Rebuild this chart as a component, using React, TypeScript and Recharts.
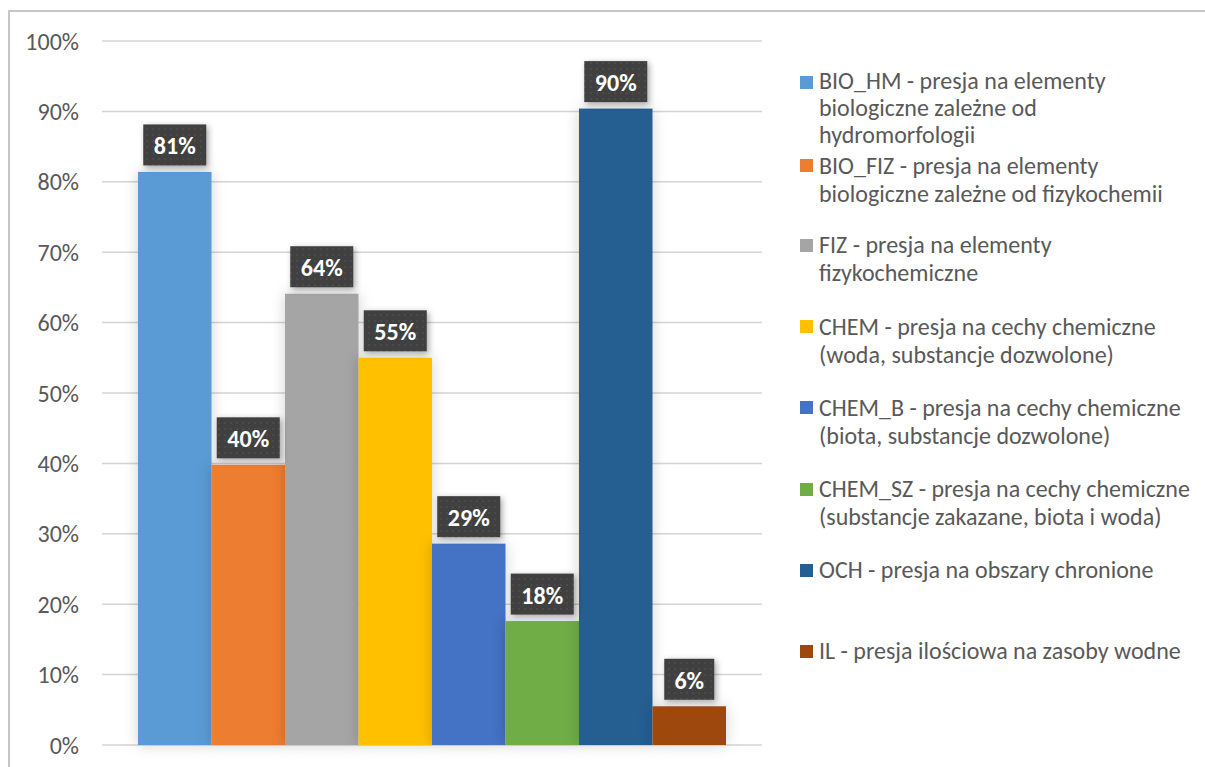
import React from 'react';
import { BarChart, Bar, XAxis, YAxis, CartesianGrid, LabelList } from 'recharts';

const seriesKeys = ['BIO_HM', 'BIO_FIZ', 'FIZ', 'CHEM', 'CHEM_B', 'CHEM_SZ', 'OCH', 'IL'];
const seriesValues = [81.4, 39.8, 64.1, 55.0, 28.6, 17.6, 90.4, 5.5];
const seriesColors = ['#5B9BD5', '#ED7D31', '#A5A5A5', '#FFC000', '#4472C4', '#70AD47', '#255E91', '#9E480E'];
const legendLines = [
  ['BIO_HM - presja na elementy', 'biologiczne zależne od', 'hydromorfologii'],
  ['BIO_FIZ - presja na elementy', 'biologiczne zależne od fizykochemii'],
  ['FIZ - presja na elementy', 'fizykochemiczne'],
  ['CHEM - presja na cechy chemiczne', '(woda, substancje dozwolone)'],
  ['CHEM_B - presja na cechy chemiczne', '(biota, substancje dozwolone)'],
  ['CHEM_SZ - presja na cechy chemiczne', '(substancje zakazane, biota i woda)'],
  ['OCH - presja na obszary chronione'],
  ['IL - presja ilościowa na zasoby wodne'],
];
const yTicks = [0, 10, 20, 30, 40, 50, 60, 70, 80, 90, 100];

const row: Record<string, number | string> = { cat: '' };
seriesKeys.forEach((k, i) => {
  row[k] = seriesValues[i];
});
const data = [row];

const FONT = 'Calibri, Carlito, Lato, sans-serif';

const renderLabel = (props: any) => {
  const { x, y, width, value } = props;
  const txt = `${Math.round(Number(value))}%`;
  const w = txt.length * 13 + 24;
  const h = 41;
  const cx = Number(x) + Number(width) / 2;
  const top = Number(y) - 6.5 - h;
  return (
    <g>
      <rect
        x={cx - w / 2}
        y={top}
        width={w}
        height={h}
        fill="url(#dotPattern)"
        style={{ filter: 'drop-shadow(2px 2px 3px rgba(0,0,0,0.35))' }}
      />
      <text
        x={cx}
        y={top + h / 2 + 1}
        textAnchor="middle"
        dominantBaseline="central"
        fill="#ffffff"
        fontWeight="bold"
        fontSize={24}
        fontFamily={FONT}
      >
        {txt}
      </text>
    </g>
  );
};

const barShape = (props: any) => {
  const { x, y, width, height, fill } = props;
  return (
    <rect
      x={x}
      y={y}
      width={width}
      height={height}
      fill={fill}
      style={{ filter: 'drop-shadow(0px 0px 7px rgba(0,0,0,0.18))' }}
    />
  );
};

const legendTop = (i: number) => (i === 0 ? 67 : 69 + i * 81.2 + (i === 1 ? 1.5 : 0));

export default function App() {
  return (
    <div
      style={{
        position: 'fixed',
        left: 0,
        top: 0,
        width: 1205,
        height: 767,
        overflow: 'hidden',
        background: '#fff',
        fontFamily: FONT,
      }}
    >
      <div
        style={{
          position: 'absolute',
          left: 8,
          top: 10,
          width: 1300,
          height: 900,
          borderTop: '2px solid #c6c6c6',
          borderLeft: '2px solid #c6c6c6',
          boxSizing: 'border-box',
        }}
      />
      <div style={{ position: 'absolute', left: 0, top: 0 }}>
        <BarChart
          width={1205}
          height={767}
          data={data}
          margin={{ top: 41, right: 443, bottom: 22, left: 0 }}
          barGap={0}
        >
          <defs>
            <pattern id="dotPattern" width="6" height="6" patternUnits="userSpaceOnUse">
              <rect width="6" height="6" fill="#404040" />
              <circle cx="3" cy="3" r="0.9" fill="#4e4e4e" />
            </pattern>
          </defs>
          <CartesianGrid vertical={false} stroke="#d4d4d4" strokeWidth={1.5} />
          <XAxis
            dataKey="cat"
            tick={false}
            tickLine={false}
            height={0}
            axisLine={{ stroke: '#a6a6a6', strokeWidth: 2 }}
          />
          <YAxis
            width={102}
            domain={[0, 100]}
            ticks={yTicks}
            interval={0}
            axisLine={false}
            tickLine={false}
            tickMargin={17}
            tickFormatter={(v: number) => `${v}%`}
            tick={{ fill: '#595959', fontSize: 24, fontFamily: FONT }}
          />
          {seriesKeys.map((k, i) => (
            <Bar
              key={k}
              dataKey={k}
              name={legendLines[i].join(' ')}
              fill={seriesColors[i]}
              barSize={73.5}
              isAnimationActive={false}
              shape={barShape}
            >
              <LabelList dataKey={k} content={renderLabel} />
            </Bar>
          ))}
        </BarChart>
      </div>
      <div style={{ position: 'absolute', left: 0, top: 0 }}>
        {legendLines.map((lines, i) => (
          <div
            key={seriesKeys[i]}
            style={{
              position: 'absolute',
              left: 800,
              top: legendTop(i),
              width: 400,
              whiteSpace: 'nowrap',
            }}
          >
            <div
              style={{
                position: 'absolute',
                left: 0,
                top: i === 0 ? 9 : 7.5,
                width: 13,
                height: 13,
                background: seriesColors[i],
              }}
            />
            <div
              style={{
                position: 'absolute',
                left: 19,
                top: 0,
                fontSize: 24,
                lineHeight: i === 0 ? '27px' : '28px',
                color: '#595959',
                fontFamily: FONT,
              }}
            >
              {lines.map((l, j) => (
                <div key={j}>{l}</div>
              ))}
            </div>
          </div>
        ))}
      </div>
    </div>
  );
}
